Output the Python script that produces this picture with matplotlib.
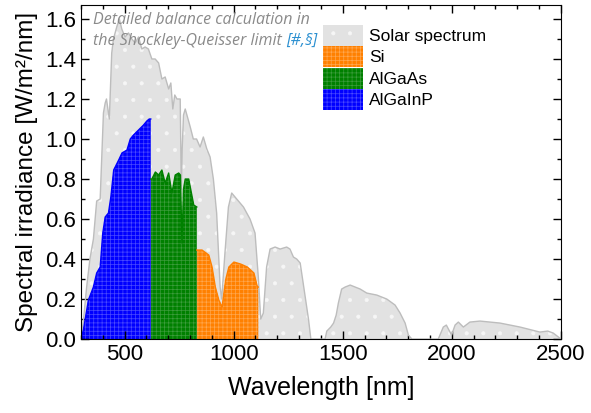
import matplotlib
matplotlib.use("Agg")
import matplotlib.pyplot as plt
import numpy as np

plt.rcParams['font.family'] = ['Liberation Sans', 'DejaVu Sans']
plt.rcParams['hatch.linewidth'] = 0.5

# AM1.5G solar spectrum (nm, W/m2/nm)
solar_wl = [300, 311, 326, 341, 357, 372, 388, 403, 411, 417, 430, 441, 449, 464,
            476, 487, 502, 518, 533, 548, 564, 579, 594, 609, 625, 640, 656, 671,
            686, 702, 712, 721, 730, 740, 755, 760, 764, 770, 778, 801, 815, 830,
            846, 861, 877, 892, 907, 922, 938, 945, 960, 976, 991, 1014, 1045,
            1075, 1098, 1113, 1124, 1136, 1151, 1167, 1190, 1213, 1243, 1258,
            1274, 1289, 1305, 1320, 1343, 1354, 1419, 1427, 1445, 1458,
            1470, 1480, 1495, 1511, 1534, 1557, 1580, 1610, 1656, 1702, 1740,
            1763, 1786, 1801, 1817, 1938, 1961, 1975, 1999, 2015, 2030, 2053,
            2083, 2129, 2221, 2313, 2404, 2440, 2465, 2495, 2500]
solar_irr = [0.0, 0.09, 0.26, 0.40, 0.50, 0.69, 0.70, 1.13, 1.18, 1.20, 1.10, 1.43,
             1.50, 1.56, 1.60, 1.55, 1.51, 1.53, 1.50, 1.48, 1.51, 1.45, 1.46,
             1.45, 1.40, 1.40, 1.38, 1.30, 1.31, 1.25, 1.28, 1.15, 1.22, 1.20,
             1.20, 0.75, 0.95, 1.12, 1.15, 1.06, 1.00, 1.00, 0.96, 1.01, 0.95,
             0.91, 0.80, 0.63, 0.26, 0.20, 0.43, 0.66, 0.73, 0.70, 0.66, 0.60,
             0.53, 0.31, 0.10, 0.13, 0.36, 0.45, 0.46, 0.45, 0.46, 0.45, 0.41,
             0.40, 0.38, 0.27, 0.10, 0.0, 0.0, 0.04, 0.06, 0.08, 0.12,
             0.18, 0.25, 0.26, 0.27, 0.26, 0.25, 0.23, 0.22, 0.20, 0.17, 0.13,
             0.08, 0.02, 0.0, 0.0, 0.06, 0.07, 0.02, 0.07, 0.085, 0.06, 0.085,
             0.09, 0.08, 0.06, 0.035, 0.04, 0.03, 0.005, 0.0]

# usable power per sub-cell
algainp_wl = [300, 311, 334, 357, 372, 388, 400, 411, 426, 437, 450, 473, 488, 511,
              526, 541, 564, 587, 602, 613, 620]
algainp_p = [0.0, 0.045, 0.195, 0.26, 0.33, 0.36, 0.53, 0.61, 0.63, 0.71, 0.845,
             0.895, 0.93, 0.945, 1.0, 1.02, 1.045, 1.07, 1.09, 1.10, 1.10]

algaas_wl = [620, 625, 641, 656, 671, 686, 702, 717, 732, 748, 756, 763, 770, 778,
             794, 817, 831]
algaas_p = [0.80, 0.80, 0.835, 0.82, 0.845, 0.78, 0.83, 0.73, 0.82, 0.83, 0.82, 0.48,
            0.75, 0.80, 0.80, 0.67, 0.66]

si_wl = [831, 835, 855, 886, 901, 916, 932, 947, 963, 978, 1001, 1032, 1063, 1093,
         1109, 1113]
si_p = [0.445, 0.445, 0.445, 0.42, 0.36, 0.26, 0.195, 0.16, 0.295, 0.36, 0.385,
        0.375, 0.36, 0.33, 0.26, 0.26]

fig = plt.figure(figsize=(5.91, 4.13), dpi=100)
ax = fig.add_axes([0.137, 0.179, 0.812, 0.809])

ax.fill_between(solar_wl, solar_irr, 0, facecolor='#e2e2e2', edgecolor='#f6f6f6',
                linewidth=0, hatch='.', label='Solar spectrum')
ax.plot(solar_wl, solar_irr, color='#bdbdbd', lw=1.0)

bands = [(si_wl, si_p, '#ff8000', '#ffa850', 'Si'),
         (algaas_wl, algaas_p, '#008000', '#3c9c3c', 'AlGaAs'),
         (algainp_wl, algainp_p, '#0000ff', '#4a4aff', 'AlGaInP')]
for wl, p, col, light, name in bands:
    ax.fill_between(wl, p, 0, facecolor=col, edgecolor=light, linewidth=0,
                    hatch='++++', label=name)
    ax.plot(wl, p, color=col, lw=1.0)

ax.set_xlim(300, 2500)
ax.set_ylim(0, 1.67)
ax.set_xticks([500, 1000, 1500, 2000, 2500])
ax.set_xticks(np.arange(300, 2501, 100), minor=True)
ax.set_yticks(np.arange(0, 1.61, 0.2))
ax.set_yticks(np.arange(0, 1.67, 0.1), minor=True)
ax.tick_params(which='both', direction='in', top=True, right=True, labelsize=16)
ax.tick_params(which='major', length=6, width=1)
ax.tick_params(which='minor', length=3, width=1)
ax.yaxis.set_major_formatter(plt.FormatStrFormatter('%.1f'))

ax.set_xlabel('Wavelength [nm]', fontsize=18, labelpad=8)
ax.set_ylabel('Spectral irradiance [W/m²/nm]', fontsize=17.5, labelpad=5)

ax.legend(loc='upper left', bbox_to_anchor=(0.49, 0.962), frameon=False, fontsize=12.5,
          handlelength=2.3, handleheight=1.5, handletextpad=0.35, labelspacing=0.02,
          borderaxespad=0)

t1 = ax.text(0.026, 0.955, 'Detailed balance calculation in', transform=ax.transAxes,
             fontsize=11.5, style='italic', color='#8a8a8a', family='Open Sans',
             va='center')
t2 = ax.text(0.026, 0.893, 'the Shockley-Queisser limit ', transform=ax.transAxes,
             fontsize=11.5, style='italic', color='#8a8a8a', family='Open Sans',
             va='center')
ax.annotate('[#,§]', xy=(1, 0), xycoords=t2, va='bottom', fontsize=11.5,
            style='italic', color='#2a8fd0', family='Open Sans')

fig.savefig('out.png', dpi=100)
